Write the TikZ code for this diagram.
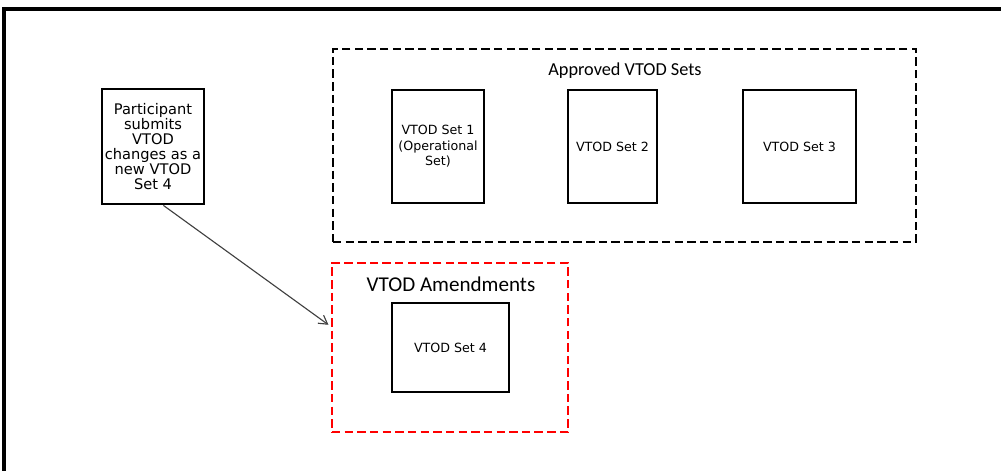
\documentclass[tikz,border=0pt]{standalone}
\usepackage{fontspec}
\setmainfont{DejaVu Sans}
\newfontfamily\titlefont{Carlito}
\usetikzlibrary{arrows.meta}

\begin{document}
\begin{tikzpicture}[x=0.025cm,y=-0.025cm,>={Straight Barb[length=6pt,width=7pt]},
	setbox/.style={draw,line width=2pt,align=center,inner sep=1pt,font=\fontsize{9}{11}\selectfont},
	groupbox/.style={draw,line width=1.8pt,dash pattern=on 6pt off 3pt},
	grouptitle/.style={font=\titlefont\fontsize{13}{15}\selectfont}]

\useasboundingbox (0,0) rectangle (1001,471);
\clip (0,0) rectangle (1001,471);

\draw[line width=2.2pt] (4,480)--(4,9)--(1010,9);

\node[groupbox,minimum width=583*0.025cm,minimum height=193*0.025cm] (approved) at (624.5,145.5) {};
\node[grouptitle] (approvedtitle) at (625,71) {Approved VTOD Sets};

\node[setbox,minimum width=92*0.025cm,minimum height=113*0.025cm] (set1) at (438,146.5) {VTOD Set 1\\(Operational\\Set)};
\node[setbox,minimum width=89*0.025cm,minimum height=113*0.025cm] (set2) at (612.5,146.5) {VTOD Set 2};
\node[setbox,minimum width=113*0.025cm,minimum height=113*0.025cm] (set3) at (799.5,146.5) {VTOD Set 3};

\node[groupbox,red,minimum width=236*0.025cm,minimum height=169*0.025cm] (amend) at (450,347.5) {};
\node[grouptitle,font=\titlefont\fontsize{15}{17}\selectfont] (amendtitle) at (451,284) {VTOD Amendments};

\node[setbox,minimum width=117*0.025cm,minimum height=89*0.025cm] (set4) at (450.5,347.5) {VTOD Set 4};

\node[setbox,minimum width=102*0.025cm,minimum height=115*0.025cm,font=\fontsize{10.4}{10.6}\selectfont] (part) at (153,146.5) {Participant\\submits\\VTOD\\changes as a\\new VTOD\\Set 4};

\draw[->,line width=0.8pt,color=black!75,shorten >=2pt] (part.-80)--(amend.170);

\end{tikzpicture}
\end{document}
